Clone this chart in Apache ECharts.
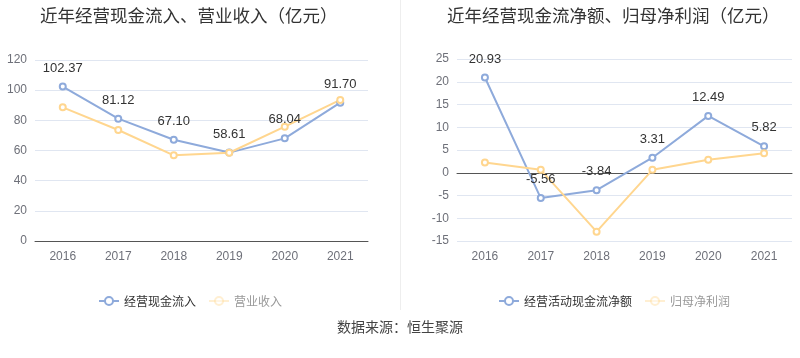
<!DOCTYPE html>
<html><head><meta charset="utf-8">
<script src="https://cdn.jsdelivr.net/npm/echarts@6/dist/echarts.min.js"></script>
<style>html,body{margin:0;padding:0;background:#fff}#c{width:800px;height:358px}</style>
</head><body><div id="c"></div>
<script>
var years = ['2016','2017','2018','2019','2020','2021'];
var cashIn = [102.37, 81.12, 67.10, 58.61, 68.04, 91.70];
var revenue = [88.6, 73.6, 56.8, 58.5, 75.8, 93.5];
var netCash = [20.93, -5.56, -3.84, 3.31, 12.49, 5.82];
var netProfit = [2.25, 0.64, -12.95, 0.64, 2.84, 4.3];
var leftTicks = {min: 0, max: 120, interval: 20};
var rightTicks = {min: -15, max: 25, interval: 5};

var blue = '#8EAADB', yellow = '#FFD68F';
var font = '"Noto Sans CJK SC", sans-serif';
var chart = echarts.init(document.getElementById('c'));
function xAxis(idx){
  return {type:'category', gridIndex:idx, data:years, boundaryGap:true,
    axisLine:{onZero:true, lineStyle:{color:'#555'}},
    axisTick:{alignWithLabel:true, lineStyle:{color:'#555'}},
    axisLabel:{color:'#6E7079', fontSize:12, margin:10, fontFamily:'Arial, sans-serif'}};
}
function yAxis(idx, t){
  return {type:'value', gridIndex:idx, min:t.min, max:t.max, interval:t.interval,
    axisLine:{show:false}, axisTick:{show:false},
    axisLabel:{color:'#6E7079', fontSize:12, fontFamily:'Arial, sans-serif'},
    splitLine:{lineStyle:{color:'#E0E6F1'}}};
}
function series(name, data, color, xi, label){
  return {name:name, type:'line', data:data, xAxisIndex:xi, yAxisIndex:xi,
    symbol:'emptyCircle', symbolSize:6, color:color,
    lineStyle:{width:2, color:color}, itemStyle:{color:color, borderWidth:2},
    label:{show:label, position:'top', color:'#333', fontSize:13, distance:8, fontFamily:'Arial, sans-serif',
      formatter:function(p){return p.value.toFixed(2);}}};
}
chart.setOption({
  animation:false,
  title:[
    {text:'近年经营现金流入、营业收入（亿元）', left:35, top:2, textStyle:{fontSize:17.5, fontWeight:'normal', color:'#333', fontFamily:font}},
    {text:'近年经营现金流净额、归母净利润（亿元）', left:442, top:2, textStyle:{fontSize:17.5, fontWeight:'normal', color:'#333', fontFamily:font}},
    {text:'数据来源：恒生聚源', left:'center', top:315, textStyle:{fontSize:14, fontWeight:'normal', color:'#444', fontFamily:font}}
  ],
  legend:[
    {left:93, top:290, itemWidth:20, itemHeight:10, itemGap:12, textStyle:{fontSize:12, color:'#333', fontFamily:font},
      data:[{name:'经营现金流入'},{name:'营业收入', textStyle:{color:'#999'}, itemStyle:{opacity:0.4}, lineStyle:{opacity:0.4}}]},
    {left:493, top:290, itemWidth:20, itemHeight:10, itemGap:12, textStyle:{fontSize:12, color:'#333', fontFamily:font},
      data:[{name:'经营活动现金流净额'},{name:'归母净利润', textStyle:{color:'#999'}, itemStyle:{opacity:0.4}, lineStyle:{opacity:0.4}}]}
  ],
  grid:[
    {left:35, right:432, top:60, bottom:117},
    {left:457, right:8, top:59, bottom:117}
  ],
  xAxis:[xAxis(0), xAxis(1)],
  yAxis:[yAxis(0, leftTicks), yAxis(1, rightTicks)],
  graphic:[{type:'line', shape:{x1:400.5, y1:0, x2:400.5, y2:310}, style:{stroke:'#EEEEEE', lineWidth:1}}],
  series:[
    series('经营现金流入', cashIn, blue, 0, true),
    series('营业收入', revenue, yellow, 0, false),
    series('经营活动现金流净额', netCash, blue, 1, true),
    series('归母净利润', netProfit, yellow, 1, false)
  ]
});
</script></body></html>
